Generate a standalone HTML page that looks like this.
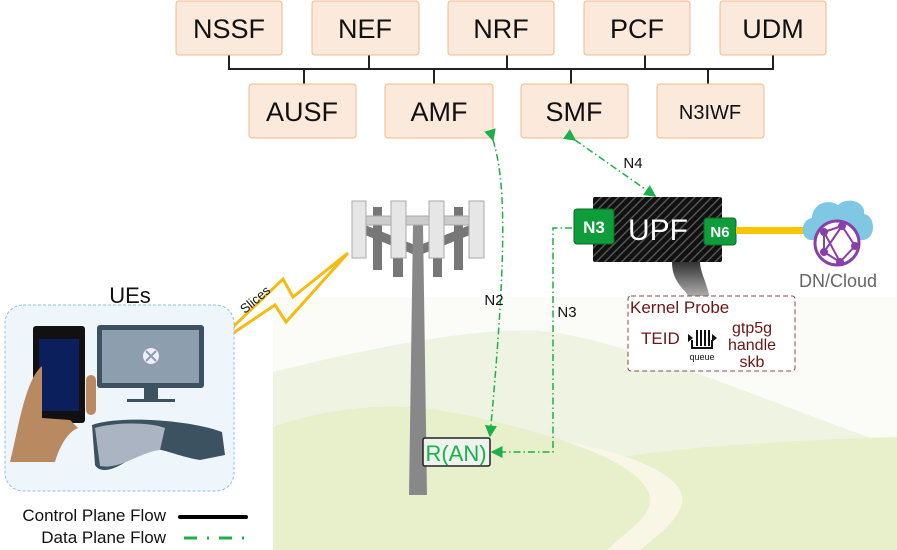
<!DOCTYPE html>
<html><head><meta charset="utf-8"><style>
html,body{margin:0;padding:0;background:#fff;}
svg{display:block;font-family:"Liberation Sans",sans-serif;}
</style></head><body>
<svg width="897" height="550" viewBox="0 0 897 550" xmlns="http://www.w3.org/2000/svg">
<defs>
<pattern id="hatch" width="6" height="6" patternUnits="userSpaceOnUse" patternTransform="rotate(45)">
<rect width="6" height="6" fill="#111"/><rect width="1.5" height="6" fill="#555"/>
</pattern>
<linearGradient id="cable" x1="0" y1="0" x2="0" y2="1"><stop offset="0" stop-color="#333"/><stop offset="1" stop-color="#bbb"/></linearGradient>
<marker id="ag" markerWidth="8" markerHeight="8" refX="7" refY="4" orient="auto"><path d="M0,0 L8,4 L0,8 z" fill="#1bb04a"/></marker>
</defs>
<!-- background -->
<path d="M273,297 L897,297 L897,550 L273,550 z" fill="#fbfcf8"/>
<path d="M273,372 C380,345 470,330 530,330 C620,335 760,400 897,447 L897,550 L273,550 z" fill="#eff4e2"/>
<path d="M273,427 C320,410 370,405 410,407 C480,412 560,440 620,457 C700,445 800,440 897,437 L897,550 L273,550 z" fill="#e8f0cb"/>
<path d="M560,440 C600,452 650,475 650,500 C650,520 620,535 608,550 L640,550 C665,530 690,510 680,490 C665,465 610,450 560,440 z" fill="#faf6e6"/>

<!-- bus -->
<g stroke="#222" stroke-width="2" fill="none">
<path d="M229,55 V69 H773 V55"/>
<path d="M369,55 V69 M507,55 V69 M645,55 V69"/>
<path d="M304,69 V84 M434,69 V84 M571,69 V84 M708,69 V84"/>
</g>
<g fill="#fbe9dc" stroke="#f3b98a" stroke-width="1">
<rect x="176" y="1" width="106" height="54" rx="3"/>
<rect x="312" y="1" width="107" height="54" rx="3"/>
<rect x="448" y="1" width="106" height="54" rx="3"/>
<rect x="584" y="1" width="106" height="54" rx="3"/>
<rect x="720" y="1" width="106" height="54" rx="3"/>
<rect x="249" y="84" width="107" height="54" rx="3"/>
<rect x="385" y="84" width="108" height="54" rx="3"/>
<rect x="521" y="84" width="107" height="54" rx="3"/>
<rect x="657" y="84" width="107" height="54" rx="3"/>
</g>
<g font-size="27" text-anchor="middle" fill="#111">
<text x="229" y="38">NSSF</text><text x="365" y="38">NEF</text><text x="501" y="38">NRF</text>
<text x="637" y="38">PCF</text><text x="773" y="38">UDM</text>
<text x="302" y="121">AUSF</text><text x="439" y="121">AMF</text><text x="574" y="121">SMF</text>
<text x="710" y="119" font-size="20">N3IWF</text>
</g>

<!-- tower -->
<g fill="#777">
<rect x="373" y="207" width="9" height="63"/><rect x="393" y="240" width="10" height="37"/>
<rect x="433" y="240" width="9" height="37"/><rect x="454" y="207" width="9" height="63"/>
<path d="M365,225 L415,245 L415,255 L365,235 z"/><path d="M470,225 L420,245 L420,255 L470,235 z"/>
<path d="M413,225 L423,225 L427,495 L409,495 z" fill="#888"/>
</g>
<rect x="366" y="216" width="104" height="9" fill="#ccc" stroke="#aaa"/>
<g fill="#e6e6e6" stroke="#aaa">
<rect x="352" y="201" width="14" height="57"/><rect x="391" y="201" width="15" height="57"/>
<rect x="429" y="201" width="15" height="57"/><rect x="469" y="201" width="15" height="57"/>
</g>
<rect x="423" y="438" width="67" height="28" rx="2" fill="#eef3ee" stroke="#222" stroke-width="1.5"/>
<text x="456" y="461" font-size="22" text-anchor="middle" fill="#1bb04a">R(AN)</text>

<!-- flows -->
<g stroke="#1bb04a" stroke-width="1.5" fill="none" stroke-dasharray="7,3,1.5,3">
<path d="M493,140 C505,180 508,240 490,436" marker-end="url(#ag)" marker-start="url(#ag)"/>
<path d="M572,228 H553 V452 H492" marker-end="url(#ag)"/>
<path d="M575,140 L655,196" marker-end="url(#ag)" marker-start="url(#ag)"/>
</g>
<text x="494" y="305" font-size="15" text-anchor="middle" fill="#111">N2</text>
<text x="567" y="317" font-size="15" text-anchor="middle" fill="#111">N3</text>
<text x="633" y="168" font-size="15" text-anchor="middle" fill="#111">N4</text>

<!-- UPF -->
<path d="M672,262 C672,285 688,290 690,300 L710,300 C708,285 700,272 700,262 z" fill="url(#cable)"/>
<rect x="593" y="197" width="129" height="65" rx="2" fill="url(#hatch)"/>
<text x="658" y="240" font-size="30" fill="#fff" text-anchor="middle">UPF</text>
<rect x="574" y="209" width="40" height="35" rx="3" fill="#0f9d3c" stroke="#0a6a28"/>
<text x="594" y="233" font-size="17" fill="#fff" text-anchor="middle" font-weight="bold">N3</text>
<rect x="704" y="218" width="32" height="27" rx="3" fill="#0f9d3c" stroke="#0a6a28"/>
<text x="720" y="237" font-size="15" fill="#fff" text-anchor="middle" font-weight="bold">N6</text>
<rect x="736" y="227" width="76" height="7" fill="#f7c600"/>
<!-- cloud -->
<path d="M810,240 C800,238 800,220 812,218 C812,204 828,198 838,205 C848,196 866,202 864,214 C876,216 876,238 864,240 z" fill="#7ec8e3"/>
<circle cx="837" cy="243" r="22" fill="#fff" stroke="#8a3fa8" stroke-width="3"/>
<g stroke="#8a3fa8" stroke-width="2" fill="#8a3fa8">
<path d="M824,232 L842,226 L855,246 L840,262 L824,252 z M824,232 L840,262 M842,226 L824,252" fill="none"/>
<circle cx="824" cy="232" r="3"/><circle cx="842" cy="226" r="3"/><circle cx="855" cy="246" r="3"/><circle cx="840" cy="262" r="3"/><circle cx="824" cy="252" r="3"/>
</g>
<text x="838" y="287" font-size="18" fill="#666" text-anchor="middle">DN/Cloud</text>

<!-- kernel probe -->
<rect x="628" y="296" width="167" height="75" rx="3" fill="#fff" stroke="#8a4b4b" stroke-dasharray="5,3"/>
<g fill="#6b1616">
<text x="630" y="313" font-size="17">Kernel Probe</text>
<text x="641" y="344" font-size="17">TEID</text>
<text x="752" y="333" font-size="16" text-anchor="middle">gtp5g</text>
<text x="752" y="350" font-size="16" text-anchor="middle">handle</text>
<text x="752" y="367" font-size="16" text-anchor="middle">skb</text>
</g>
<g fill="#111">
<path d="M688,334 L693,338 L688,342 z"/><path d="M712,334 L717,338 L712,342 z"/>
<rect x="696" y="330" width="2" height="16"/><rect x="700" y="330" width="2" height="16"/><rect x="704" y="330" width="2" height="16"/><rect x="708" y="330" width="2" height="16"/>
<path d="M691,340 V349 H713 V340 h-2 v7 h-18 v-7 z"/>
<text x="702" y="360" font-size="9" text-anchor="middle">queue</text>
</g>

<!-- lightning -->
<path d="M211,348 L283,279 L293,297 L348,253 L286,322 L275,305 z" fill="none" stroke="#f5bb12" stroke-width="3" stroke-linejoin="miter"/>
<text x="258" y="303" font-size="13" fill="#111" transform="rotate(-40 258 303)" text-anchor="middle">Slices</text>

<!-- UEs -->
<text x="130" y="303" font-size="22" text-anchor="middle" fill="#111">UEs</text>
<rect x="5" y="305" width="229" height="186" rx="18" fill="#eef6fb" stroke="#8cc0e4" stroke-dasharray="3,2"/>
<rect x="33" y="326" width="52" height="97" rx="3" fill="#111"/>
<rect x="39" y="339" width="40" height="72" fill="#0a1f5c"/>
<path d="M42,366 C25,380 18,430 10,462 L55,462 C60,445 68,432 78,428 L70,420 L42,418 z" fill="#b98a62"/>
<path d="M86,380 a5,5 0 0 1 10,0 v30 a5,5 0 0 1 -10,0 z" fill="#b98a62"/>
<rect x="97" y="325" width="107" height="63" rx="3" fill="#3d5260"/>
<rect x="102" y="330" width="97" height="53" fill="#8d9fae"/>
<circle cx="151" cy="356" r="8" fill="#eef"/><path d="M146,351 L156,361 M156,351 L146,361" stroke="#8d9fae" stroke-width="2"/>
<rect x="144" y="388" width="14" height="11" fill="#3d5260"/><rect x="127" y="399" width="48" height="3" fill="#3d5260"/>
<path d="M92,425 C120,415 190,420 222,432 L225,455 L200,460 C170,455 160,445 140,450 C120,470 100,475 95,465 z" fill="#3d5260"/>
<path d="M95,428 C115,422 150,422 165,428 L160,450 C140,452 120,470 100,466 z" fill="#aab4c2"/>

<!-- legend -->
<text x="166" y="521" font-size="17" text-anchor="end" fill="#111">Control Plane Flow</text>
<line x1="180" y1="517" x2="246" y2="517" stroke="#000" stroke-width="4" stroke-linecap="round"/>
<text x="166" y="543" font-size="17" text-anchor="end" fill="#111">Data Plane Flow</text>
<line x1="184" y1="538" x2="246" y2="538" stroke="#1bb04a" stroke-width="3" stroke-dasharray="13,10,2,10"/>
</svg>
</body></html>
